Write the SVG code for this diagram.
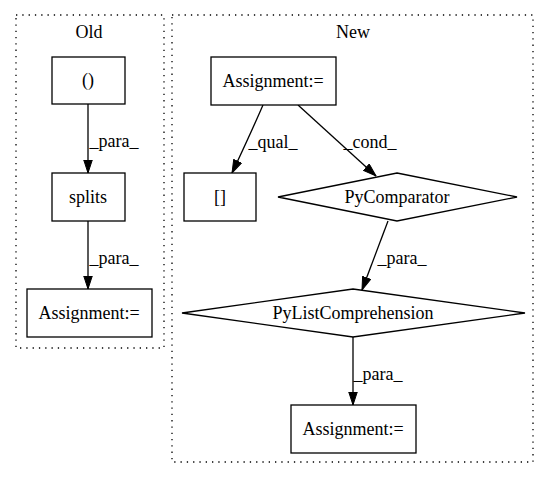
<svg xmlns="http://www.w3.org/2000/svg" width="549" height="480" viewBox="0 0 549 480">
<style>
text{font-family:"Liberation Serif","Times New Roman",serif;font-size:18px;fill:#000;text-anchor:middle}
.cl{fill:none;stroke:#000;stroke-width:1.3;stroke-dasharray:1.3,5}
.n{fill:#fff;stroke:#000;stroke-width:1.3}
.e{fill:none;stroke:#000;stroke-width:1.3}
</style>
<defs>
<marker id="ah" markerUnits="userSpaceOnUse" markerWidth="14" markerHeight="10" refX="13.5" refY="4.75" orient="auto">
<path d="M0.5,0.5 L13.5,4.75 L0.5,9 z" fill="#000" stroke="#000" stroke-width="1"/>
</marker>
</defs>
<rect width="549" height="480" fill="#fff"/>
<g id="cluster_old">
<rect class="cl" x="16" y="15" width="148" height="333"/>
<text x="89" y="38">Old</text>
</g>
<g id="cluster_new">
<rect class="cl" x="172" y="15" width="361" height="447"/>
<text x="353" y="38">New</text>
</g>
<g id="edges">
<path class="e" d="M88,104 L88,173" marker-end="url(#ah)"/>
<text x="114" y="147">_para_</text>
<path class="e" d="M88,221 L88,289" marker-end="url(#ah)"/>
<text x="114" y="264">_para_</text>
<path class="e" d="M263,105 Q250,135 232,173" marker-end="url(#ah)"/>
<text x="273" y="148">_qual_</text>
<path class="e" d="M298,105 L376,176" marker-end="url(#ah)"/>
<text x="370" y="148">_cond_</text>
<path class="e" d="M388,221 L362,290" marker-end="url(#ah)"/>
<text x="402" y="264">_para_</text>
<path class="e" d="M353,337 L353,405" marker-end="url(#ah)"/>
<text x="378" y="380">_para_</text>
</g>
<g id="n_paren">
<rect class="n" x="52" y="57" width="73" height="47"/>
<text x="88" y="86">()</text>
</g>
<g id="n_splits">
<rect class="n" x="52" y="173" width="73" height="48"/>
<text x="88" y="203">splits</text>
</g>
<g id="n_assign_old">
<rect class="n" x="27" y="289" width="125" height="48"/>
<text x="89" y="319">Assignment:=</text>
</g>
<g id="n_assign_top">
<rect class="n" x="211" y="57" width="125" height="48"/>
<text x="273" y="87">Assignment:=</text>
</g>
<g id="n_bracket">
<rect class="n" x="184" y="173" width="72" height="48"/>
<text x="220" y="203">[]</text>
</g>
<g id="n_pycomp">
<polygon class="n" points="397,173 517,197 397,221 278,197"/>
<text x="397" y="203">PyComparator</text>
</g>
<g id="n_pylist">
<polygon class="n" points="353,289 525,313 353,337 182,313"/>
<text x="353" y="319">PyListComprehension</text>
</g>
<g id="n_assign_bot">
<rect class="n" x="291" y="405" width="125" height="48"/>
<text x="353" y="435">Assignment:=</text>
</g>
</svg>
